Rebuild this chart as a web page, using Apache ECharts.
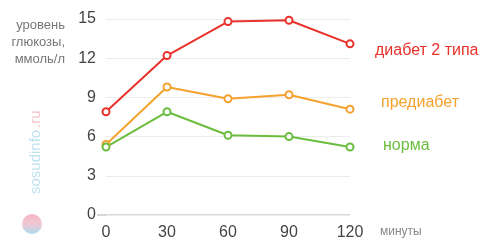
<!DOCTYPE html>
<html><head><meta charset="utf-8">
<script src="https://cdn.jsdelivr.net/npm/echarts@6/dist/echarts.min.js"></script>
<style>html,body{margin:0;padding:0;background:#fff}#c{width:500px;height:249px}</style>
</head><body><div id="c"></div>
<script>
const minutes = ['0','30','60','90','120'];
const yTicks = [0,3,6,9,12,15];
const diabetes = [7.9, 12.2, 14.8, 14.9, 13.1];
const prediabetes = [5.4, 9.8, 8.9, 9.2, 8.1];
const normal = [5.2, 7.9, 6.1, 6.0, 5.2];
const names = ['диабет 2 типа','предиабет','норма'];
const colors = ['#e8322b','#f4a12e','#6cbd3f'];

const chart = echarts.init(document.getElementById('c'));
function s(name, data, color){
  return {name, type:'line', data, symbol:'circle', symbolSize:7,
    itemStyle:{color:'#fff', borderColor:color, borderWidth:2},
    lineStyle:{color, width:2}, emphasis:{disabled:true}};
}
chart.setOption({
  animation:false,
  grid:{left:106, right:150, top:19, bottom:34},
  xAxis:{type:'category', data:minutes, boundaryGap:false,
    axisLine:{show:false}, axisTick:{show:false},
    axisLabel:{color:'#444', fontSize:16, margin:10, fontFamily:'Helvetica, Arial, sans-serif'}},
  yAxis:{type:'value', min:yTicks[0], max:yTicks[yTicks.length-1], interval:3,
    axisLine:{show:false}, axisTick:{show:false},
    splitLine:{lineStyle:{color:'#ececec', width:1}},
    axisLabel:{color:'#444', fontSize:16, margin:10, fontFamily:'Helvetica, Arial, sans-serif'}},
  series:[s(names[0], diabetes, colors[0]), s(names[1], prediabetes, colors[1]), s(names[2], normal, colors[2])],
  graphic:[
    {type:'line', shape:{x1:97, y1:215, x2:350, y2:215}, style:{stroke:'#c8c8c8', lineWidth:1.5}, z:0},
    {type:'text', x:65, y:17, style:{text:'уровень\nглюкозы,\nммоль/л', align:'right', verticalAlign:'top', fill:'#777', font:'13px Arial, sans-serif', lineHeight:17}},
    {type:'text', left:375, top:43, style:{text:names[0], fill:colors[0], font:'16px Arial, sans-serif'}},
    {type:'text', left:381, top:95, style:{text:names[1], fill:colors[1], font:'16px Arial, sans-serif'}},
    {type:'text', left:383, top:138, style:{text:names[2], fill:colors[2], font:'16px Arial, sans-serif'}},
    {type:'text', left:380, top:226, style:{text:'минуты', fill:'#888', font:'12px Arial, sans-serif'}},
    {type:'text', x:43, y:194, rotation:Math.PI/2, style:{text:'sosudinfo', fill:'#bfe3ee', font:'15px Arial, sans-serif', align:'left', verticalAlign:'bottom'}},
    {type:'text', x:43, y:128, rotation:Math.PI/2, style:{text:'.ru', fill:'#f3c3cc', font:'15px Arial, sans-serif', align:'left', verticalAlign:'bottom'}},
    {type:'circle', shape:{cx:32, cy:224, r:10}, style:{fill:{type:'linear',x:0,y:0,x2:0,y2:1,colorStops:[{offset:0,color:'#f5b8c4'},{offset:0.5,color:'#f0c8d4'},{offset:1,color:'#a9dcee'}]}}}
  ]
});
</script></body></html>
